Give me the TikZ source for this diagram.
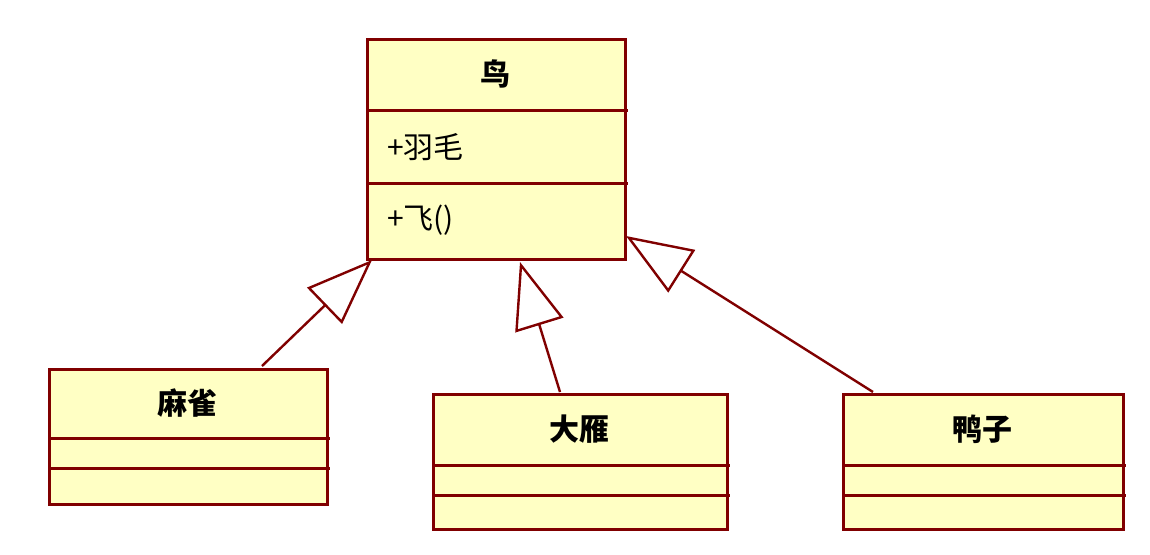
\documentclass[tikz,border=0pt]{standalone}
\usepackage{fontspec}
\newfontfamily\cjk{Noto Sans CJK SC}
\usetikzlibrary{arrows.meta}
\definecolor{bd}{HTML}{800000}
\definecolor{fl}{HTML}{FFFFC4}
\tikzset{
 cls/.style={draw=bd,fill=fl,line width=1.5pt,inner sep=0pt},
 sep/.style={draw=bd,line width=1.5pt},
 inh/.style={draw=bd,line width=1.2pt,-{Triangle[open,length=33pt,width=25pt,fill=white]}},
 txt/.style={font=\cjk\fontsize{15}{18}\selectfont}
}
\begin{document}
\begin{tikzpicture}[x=0.5pt,y=-0.5pt]
\useasboundingbox (0,0) rectangle (1150,554);
\fill[white] (0,0) rectangle (1150,554);
% top class
\node[cls,minimum width=129pt,minimum height=110pt,anchor=north west] (bird) at (366,38) {};
\draw[sep] (366,110) -- (628,110);
\draw[sep] (366,183) -- (628,183);
\node[txt,font=\cjk\bfseries\fontsize{15}{18}\selectfont] (birdn) at (495,74) {鸟};
\node[txt,anchor=west] (birda) at (380,147) {+羽毛};
\node[txt,anchor=west] (birdo) at (380,220) {+飞()};
% sparrow
\node[cls,minimum width=139pt,minimum height=67.5pt,anchor=north west] (mq) at (48,368) {};
\draw[sep] (48,438) -- (330,438);
\draw[sep] (48,468) -- (330,468);
\node[txt,font=\cjk\bfseries\fontsize{15}{18}\selectfont] (mqn) at (187,403) {麻雀};
% goose
\node[cls,minimum width=147pt,minimum height=67.5pt,anchor=north west] (dy) at (432,393) {};
\draw[sep] (432,465) -- (730,465);
\draw[sep] (432,495) -- (730,495);
\node[txt,font=\cjk\bfseries\fontsize{15}{18}\selectfont] (dyn) at (579,429) {大雁};
% duck
\node[cls,minimum width=140pt,minimum height=67.5pt,anchor=north west] (yz) at (842,393) {};
\draw[sep] (842,465) -- (1126,465);
\draw[sep] (842,495) -- (1126,495);
\node[txt,font=\cjk\bfseries\fontsize{15}{18}\selectfont] (yzn) at (982,429) {鸭子};
% arrows
\coordinate (mqt) at (262,366);
\coordinate (b1) at (372,260);
\coordinate (dyt) at (560,392);
\coordinate (b2) at (520,262);
\coordinate (yzt) at (873,392);
\coordinate (b3) at (626,236);
\draw[inh] (mqt) -- (b1);
\draw[inh] (dyt) -- (b2);
\draw[inh] (yzt) -- (b3);
\end{tikzpicture}
\end{document}
